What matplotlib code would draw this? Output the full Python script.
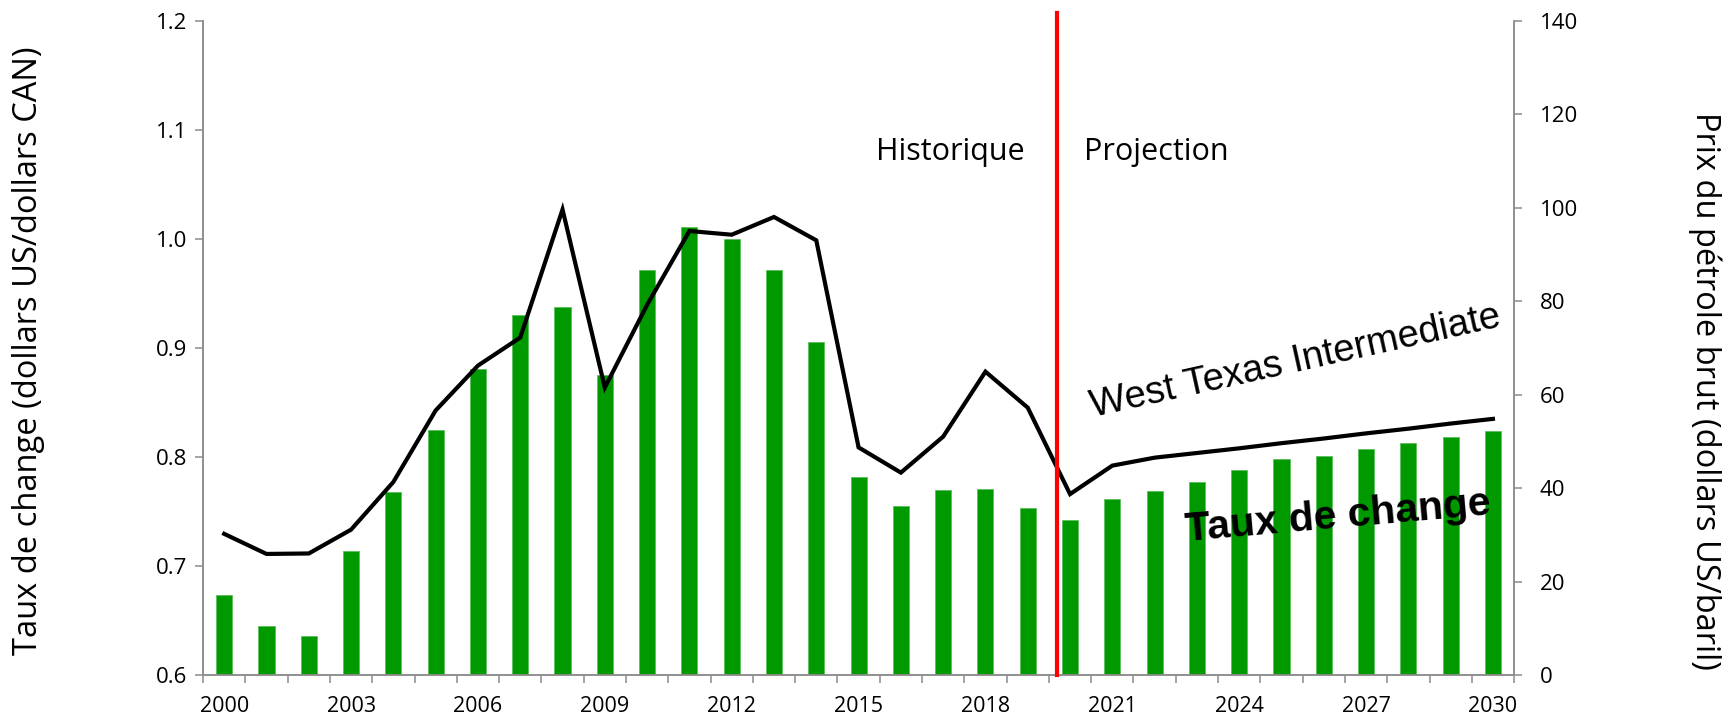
import numpy as np
import matplotlib.pyplot as plt

# Données
annees = np.arange(2000, 2031)
taux_change = [0.673, 0.645, 0.636, 0.714, 0.768, 0.825, 0.881, 0.930, 0.937, 0.875,
               0.971, 1.011, 1.000, 0.971, 0.905, 0.782, 0.755, 0.770, 0.771, 0.753,
               0.742, 0.761, 0.769, 0.777, 0.788, 0.798, 0.801, 0.807, 0.813, 0.818, 0.824]
wti = [30.2, 25.9, 26.0, 31.1, 41.3, 56.6, 66.2, 72.2, 99.6, 61.5,
       79.2, 95.0, 94.2, 98.0, 93.0, 48.7, 43.3, 51.0, 64.9, 57.2,
       38.7, 44.8, 46.5, 47.5, 48.5, 49.6, 50.6, 51.7, 52.7, 53.8, 54.8]
etiquettes_x = [str(a) for a in annees[::3]]

plt.rcParams['font.family'] = ['Open Sans', 'DejaVu Sans']
gris = '#8c8c8c'
x = np.arange(len(annees))

fig = plt.figure(figsize=(17.31, 7.18), dpi=100)
ax = fig.add_axes([0.1173, 0.0599, 0.7574, 0.9113])
ax2 = ax.twinx()

# barres du taux de change (axe gauche)
ax.bar(x, taux_change, width=0.38, color='#009900', edgecolor='#5cbf5c', linewidth=0.6, zorder=2)
ax.set_ylim(0.6, 1.2)
ax.set_xlim(-0.5, len(annees) - 0.5)
ax.set_yticks(np.arange(0.6, 1.21, 0.1))
ax.set_yticklabels([f"{v:.1f}" for v in np.arange(0.6, 1.21, 0.1)])

# prix du pétrole (axe droit)
ax2.plot(x, wti, color='black', linewidth=3.0, solid_joinstyle='miter', zorder=3)
ax2.set_ylim(0, 140)
ax2.set_yticks(np.arange(0, 141, 20))

# ligne historique / projection
ax2.axvline(19.7, ymin=0, ymax=1.011, color='#ff0000', linewidth=3, clip_on=False, zorder=4)

# axe x : graduations entre les catégories, étiquettes tous les 3 ans
ax.set_xticks(np.arange(-0.5, len(annees)))
ax.set_xticklabels([])
ax.set_xticks(x[::3], minor=True)
ax.set_xticklabels(etiquettes_x, minor=True)
ax.tick_params(axis='x', which='major', direction='out', length=5.5, width=1.1, color=gris)
ax.tick_params(axis='x', which='minor', length=0, pad=15, labelsize=15.5)

for a in (ax, ax2):
    a.spines['top'].set_visible(False)
    for s in ('left', 'right', 'bottom'):
        a.spines[s].set_color(gris)
        a.spines[s].set_linewidth(1.1)
ax.tick_params(axis='y', direction='out', length=5.5, width=1.1, color=gris, pad=6, labelsize=16)
ax2.tick_params(axis='y', direction='out', length=5.5, width=1.1, color=gris, pad=13, labelsize=16)

# textes
ax2.text(17.16, 112, 'Historique', fontsize=22, ha='center', va='center')
ax2.text(22.03, 112, 'Projection', fontsize=22, ha='center', va='center')
ax2.text(25.32, 67, 'West Texas Intermediate', fontfamily='Liberation Sans', fontsize=27.5,
         rotation=12.5, ha='center', va='center')
ax2.text(26.33, 33.8, 'Taux de change', fontfamily='Liberation Sans', fontsize=29.5,
         fontweight='bold', rotation=5, ha='center', va='center', zorder=5)

fig.text(0.0167, 0.512, 'Taux de change (dollars US/dollars CAN)',
         fontsize=23.5, rotation=90, ha='center', va='center')
fig.text(0.985, 0.455, 'Prix du pétrole brut (dollars US/baril)',
         fontsize=23.5, rotation=-90, ha='center', va='center')

fig.savefig('out.png', dpi=100)
